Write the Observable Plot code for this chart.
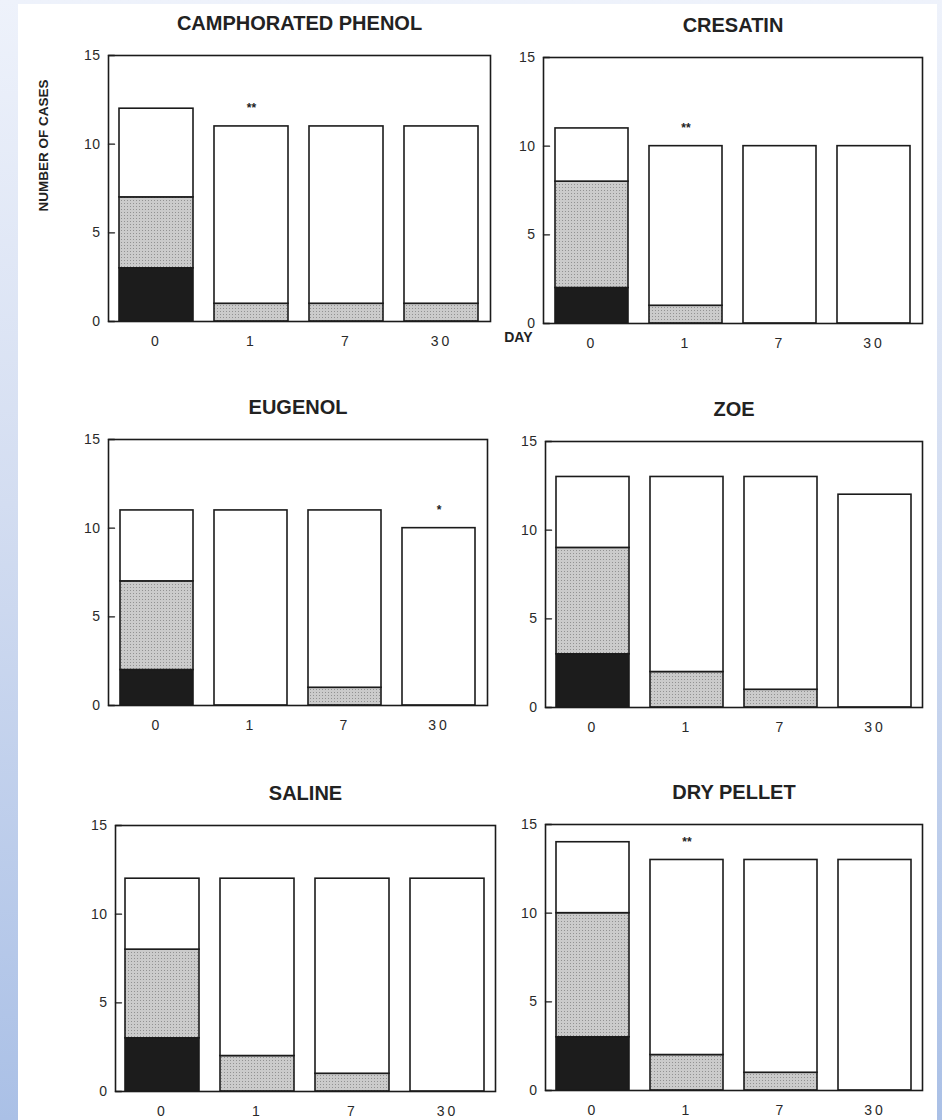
<!DOCTYPE html>
<html><head><meta charset="utf-8">
<script src="https://cdn.jsdelivr.net/npm/d3@7"></script>
<script src="https://cdn.jsdelivr.net/npm/@observablehq/plot@0.6"></script>
<style>
html,body{margin:0;padding:0;}
body{width:942px;height:1120px;position:relative;overflow:hidden;background:linear-gradient(to bottom,#eef2fb 0%,#d3ddf1 45%,#aac0e6 100%);font-family:"Liberation Sans",Arial,sans-serif;}
#paper{position:absolute;left:18px;top:4px;width:919px;height:1116px;background:#fff;}
.panel{position:absolute;}
.panel svg{overflow:visible;background:none;}
g[aria-label="x-axis tick label"]{font-size:14px;}
g[aria-label="x-axis tick label"] text{letter-spacing:3px;}
g[aria-label="y-axis tick label"]{font-size:14px;}
g[aria-label="y-axis tick label"] text{letter-spacing:0.5px;}
g[aria-label="title"] text{letter-spacing:0.7px;}
g[aria-label="ylabel"] text{letter-spacing:1.3px;}
</style></head>
<body>
<div id="paper"></div>
<svg width="0" height="0" style="position:absolute">
  <defs>
    <pattern id="stip" width="3" height="3" patternUnits="userSpaceOnUse">
      <rect width="3" height="3" fill="#cbcbcb"></rect>
      <rect width="1" height="1" fill="#929292"></rect>
    </pattern>
  </defs>
</svg>
<script>
// ---- data ----
const days = ["0", "1", "7", "30"];
const panels = ["CAMPHORATED PHENOL", "CRESATIN", "EUGENOL", "ZOE", "SALINE", "DRY PELLET"];
const levels = ["black", "stippled", "white"];
const blackCounts = [[3,0,0,0],[2,0,0,0],[2,0,0,0],[3,0,0,0],[3,0,0,0],[3,0,0,0]];
const grayCounts  = [[4,1,1,1],[6,1,0,0],[5,0,1,0],[6,2,1,0],[5,2,1,0],[7,2,1,0]];
const whiteCounts = [[5,10,10,10],[3,9,10,10],[4,11,10,10],[4,11,12,12],[4,10,11,12],[4,11,12,13]];
const sigMarks = [["","**","",""],["","**","",""],["","","","*"],["","","",""],["","","",""],["","**","",""]];
const yTicks = [0, 5, 10, 15];
const yLabel = "NUMBER OF CASES";
const xLabel = "DAY";

// ---- layout ----
const frames = [
  {x:108, y:55, w:382},
  {x:543, y:57, w:379},
  {x:108, y:439, w:379},
  {x:545, y:441, w:377},
  {x:115, y:825, w:380},
  {x:545, y:824, w:377}
];
const FH = 266, ML = 80, MR = 14, MT = 50, MB = 42;
const INK = "#1b1b1b";
const tickShape = {draw(context, l) { context.moveTo(0, 0); context.lineTo(0, -l); }};

panels.forEach((name, p) => {
  const rows = [];
  days.forEach((day, i) => {
    [blackCounts, grayCounts, whiteCounts].forEach((arr, k) => {
      if (arr[p][i] > 0) rows.push({day, level: levels[k], count: arr[p][i]});
    });
  });
  const sig = days.map((day, i) => ({
    day, mark: sigMarks[p][i],
    total: blackCounts[p][i] + grayCounts[p][i] + whiteCounts[p][i]
  })).filter(d => d.mark);

  const marks = [
    Plot.barY(rows, {x: "day", y: "count", fill: "level", order: levels, stroke: INK, strokeWidth: 1.6}),
    Plot.frame({stroke: INK, strokeWidth: 1.6}),
    Plot.vector(yTicks, {y: d => d, frameAnchor: "left", rotate: 90, length: 6, anchor: "start", shape: tickShape, stroke: INK, strokeWidth: 1.4}),
    Plot.axisY(yTicks, {tickSize: 0, tickPadding: 8, fontSize: 14, color: "#2a2a2a", label: null}),
    Plot.axisX({tickSize: 0, tickPadding: 15, fontSize: 14, color: "#2a2a2a", label: null}),
    Plot.text([name], {frameAnchor: "top", dy: -40, fontSize: 20, fontWeight: "bold", fill: "#222", ariaLabel: "title"}),
    Plot.text(sig, {x: "day", y: "total", text: "mark", dy: -18, fontSize: 12, fontWeight: "bold", fill: "#222"})
  ];
  if (p === 0) marks.push(Plot.text([yLabel], {frameAnchor: "left", textAnchor: "middle", rotate: -90, dx: -65, dy: -43, fontSize: 13.5, fontWeight: "bold", fill: "#222", ariaLabel: "ylabel"}));
  if (p === 1) marks.push(Plot.text([xLabel], {frameAnchor: "bottom-left", textAnchor: "end", dx: -11, dy: 18, fontSize: 14, fontWeight: "bold", fill: "#222"}));

  const f = frames[p];
  const chart = Plot.plot({
    width: f.w + ML + MR,
    height: FH + MT + MB,
    marginLeft: ML, marginRight: MR, marginTop: MT, marginBottom: MB,
    x: {domain: days, paddingInner: 0.22, paddingOuter: 0.11, axis: null},
    y: {domain: [0, 15], axis: null},
    color: {domain: levels, range: ["#1c1c1c", "url(#stip)", "#ffffff"]},
    style: {background: "none", overflow: "visible", fontFamily: "'Liberation Sans', Arial, sans-serif"},
    marks
  });
  const div = document.createElement("div");
  div.className = "panel";
  div.style.left = (f.x - ML) + "px";
  div.style.top = (f.y - MT) + "px";
  div.appendChild(chart);
  document.body.appendChild(div);
});
</script>
</body></html>
